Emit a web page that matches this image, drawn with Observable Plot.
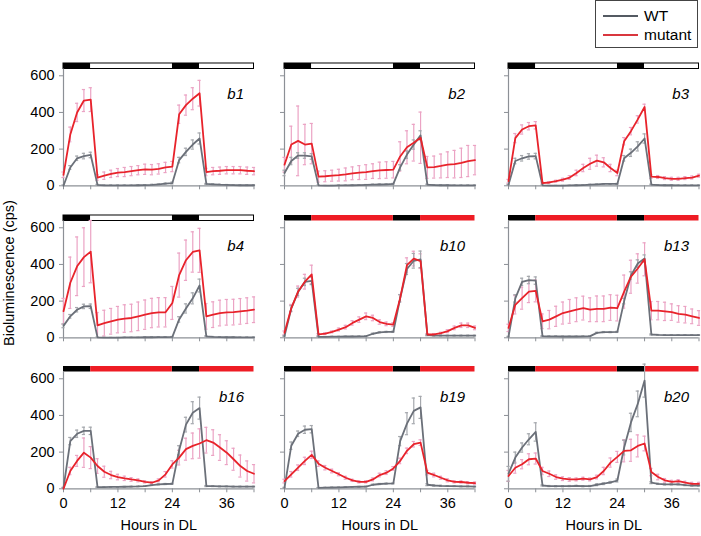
<!DOCTYPE html>
<html><head><meta charset="utf-8">
<script src="https://cdn.jsdelivr.net/npm/d3@7"></script>
<script src="https://cdn.jsdelivr.net/npm/@observablehq/plot@0.6"></script>
<style>
body{margin:0;background:#fff;}
#chart{position:relative;width:701px;height:536px;overflow:hidden;font-family:"Liberation Sans",Arial,sans-serif;color:#000;}
.panel{position:absolute;}
#ylab{position:absolute;left:8.5px;top:273px;transform:translate(-50%,-50%) rotate(-90deg);font-size:14.5px;white-space:nowrap;}
#legend{position:absolute;left:595px;top:0px;width:103px;height:48px;border:1px solid #444;box-sizing:border-box;font-size:15.5px;}
#legend .row{position:absolute;left:7px;height:18px;display:flex;align-items:center;}
#legend .sw{width:35px;height:0;border-top:2px solid;margin-right:6px;}
</style></head><body><div id="chart"><div id="ylab">Bioluminescence (cps)</div>
<div id="legend"><div class="row" style="top:6px"><span class="sw" style="border-color:#545a62"></span>WT</div><div class="row" style="top:25px"><span class="sw" style="border-color:#d9363e"></span>mutant</div></div></div>
<script>
const hours = [0,1.5,3,4.5,6,7.5,9,10.5,12,13.5,15,16.5,18,19.5,21,22.5,24,25.5,27,28.5,30,31.5,33,34.5,36,37.5,39,40.5,42];
const panelNames = ["b1","b2","b3","b4","b10","b13","b16","b19","b20"];
const lightType = ["white","white","white","white","red","red","red","red","red"];
const phaseStart = [0,6,24,30];
const phaseEnd = [6,24,30,42];
const phaseDark = [true,false,true,false];
const yTicks = [0,200,400,600];
const xTicks = [0,6,12,18,24,30,36,42];
const xTickLabels = [0,12,24,36];

const b1_wt     = [0,100,150,162,168,5,2,2,2,2,2,3,4,5,8,12,15,140,185,225,258,10,8,6,5,4,3,3,3];
const b1_wtErr  = [5,10,12,15,15,3,2,2,2,2,2,2,2,3,3,3,5,15,20,25,30,3,3,2,2,2,2,2,2];
const b1_mut    = [60,280,400,465,470,45,55,65,72,75,80,85,90,88,92,100,105,390,440,475,505,75,80,82,85,85,85,82,80];
const b1_mutErr = [15,40,50,60,65,15,20,20,22,25,25,25,28,28,28,28,28,50,55,60,70,20,20,20,20,20,20,20,20];

const b2_wt     = [70,135,165,165,160,2,1,1,2,2,3,4,5,6,7,8,10,100,170,225,275,6,4,3,3,2,2,2,2];
const b2_wtErr  = [15,20,15,15,15,2,1,1,2,2,2,2,2,3,3,3,3,15,20,25,25,3,2,2,2,2,2,2,2];
const b2_mut    = [115,225,245,225,230,50,52,55,58,62,68,72,75,80,84,86,88,160,210,235,262,100,102,108,115,118,125,135,140];
const b2_mutErr = [40,100,190,110,110,30,30,30,32,35,35,38,40,40,45,45,45,80,90,100,140,60,60,65,70,75,80,85,80];

const b3_wt     = [5,135,150,160,162,2,1,1,1,2,3,4,6,8,10,10,10,150,180,215,258,6,4,3,3,2,2,2,2];
const b3_wtErr  = [3,15,15,15,15,2,1,1,1,1,2,2,2,2,2,2,3,15,20,25,25,3,2,2,2,2,2,2,2];
const b3_mut    = [25,260,307,325,330,15,18,25,33,45,70,97,120,137,128,97,70,243,298,362,430,50,48,42,38,38,42,45,55];
const b3_mutErr = [10,25,25,20,20,5,5,5,8,10,15,20,30,30,25,20,15,20,20,20,15,10,8,8,8,8,8,8,8];

const b4_wt     = [65,117,153,171,172,2,1,1,1,2,2,2,3,3,4,4,5,100,160,215,285,8,5,4,3,3,2,2,2];
const b4_wtErr  = [10,10,12,12,12,2,1,1,1,1,1,1,2,2,2,2,2,15,25,30,35,3,2,2,2,2,2,2,2];
const b4_mut    = [145,300,390,440,470,68,80,90,99,105,108,117,126,135,139,139,190,342,423,468,477,117,126,135,139,140,144,148,153];
const b4_mutErr = [70,140,160,160,170,70,70,70,72,75,75,78,80,80,80,80,90,120,110,110,120,70,70,70,70,70,70,70,70];

const b10_wt     = [9,160,250,305,310,5,5,6,6,7,7,8,9,22,30,32,33,215,375,420,428,14,12,12,12,12,12,12,12];
const b10_wtErr  = [3,15,20,20,20,2,2,2,2,2,2,2,2,3,3,3,3,20,30,40,45,3,2,2,2,2,2,2,2];
const b10_mut    = [27,162,252,306,346,18,23,32,45,58,81,99,117,108,86,76,72,216,396,432,418,18,18,25,36,54,68,68,54];
const b10_mutErr = [10,20,30,40,50,5,5,5,8,10,12,15,18,15,12,10,10,20,40,40,40,5,5,5,8,10,12,12,10];

const b13_wt     = [5,215,305,315,312,9,8,8,7,7,7,8,9,27,31,31,32,200,340,405,432,18,16,15,15,15,15,15,15];
const b13_wtErr  = [3,20,20,20,20,2,2,2,2,2,2,2,2,3,3,3,3,15,20,20,20,3,2,2,2,2,2,2,2];
const b13_mut    = [54,180,216,252,256,90,99,117,135,144,153,162,153,158,158,165,162,252,333,378,428,148,148,144,140,130,126,117,108];
const b13_mutErr = [20,50,60,60,60,40,50,55,60,65,65,65,65,70,70,70,70,90,90,80,90,50,50,50,45,45,45,40,40];

const b16_wt     = [5,260,300,316,316,9,9,10,10,11,12,13,15,20,24,26,27,210,350,415,440,15,14,13,13,12,12,12,12];
const b16_wtErr  = [3,20,20,20,20,2,2,2,2,2,2,2,2,2,3,3,3,25,40,60,60,3,2,2,2,2,2,2,2];
const b16_mut    = [0,97,152,197,170,124,93,75,64,57,51,46,38,33,46,79,133,170,216,234,247,265,252,225,197,161,124,97,82];
const b16_mutErr = [5,20,30,80,60,40,30,20,15,12,10,8,6,5,8,15,20,40,60,70,80,70,70,70,65,60,60,55,50];

const b19_wt     = [5,235,300,322,325,5,6,7,8,9,10,11,12,22,26,28,29,260,355,425,444,22,18,16,15,14,13,13,12];
const b19_wtErr  = [3,20,15,20,20,2,2,2,2,2,2,2,2,3,3,3,3,25,60,70,60,5,3,3,2,2,2,2,2];
const b19_mut    = [42,79,115,152,185,137,115,97,79,60,46,38,38,51,75,88,111,152,207,243,252,88,75,60,46,38,37,33,31];
const b19_mutErr = [10,15,15,20,20,15,12,10,8,8,6,6,6,8,10,10,10,15,15,15,15,12,10,8,8,6,6,6,6];

const b20_wt     = [82,170,225,270,310,18,15,14,14,15,16,14,15,22,28,35,45,225,362,463,590,33,27,24,24,24,20,18,18];
const b20_wtErr  = [40,30,25,30,50,3,3,3,3,3,3,3,3,5,5,5,8,40,50,70,90,5,3,3,3,3,3,3,3];
const b20_mut    = [70,115,134,161,165,97,82,64,55,51,51,55,51,64,97,143,174,207,210,234,247,91,64,46,38,42,33,27,27];
const b20_mutErr = [30,30,25,30,30,20,15,12,10,10,8,8,8,10,20,25,30,60,60,60,40,20,15,10,8,8,8,8,8];

const panelSeries = [
  [b1_wt,b1_wtErr,b1_mut,b1_mutErr],[b2_wt,b2_wtErr,b2_mut,b2_mutErr],[b3_wt,b3_wtErr,b3_mut,b3_mutErr],
  [b4_wt,b4_wtErr,b4_mut,b4_mutErr],[b10_wt,b10_wtErr,b10_mut,b10_mutErr],[b13_wt,b13_wtErr,b13_mut,b13_mutErr],
  [b16_wt,b16_wtErr,b16_mut,b16_mutErr],[b19_wt,b19_wtErr,b19_mut,b19_mutErr],[b20_wt,b20_wtErr,b20_mut,b20_mutErr]
];

// layout
const colX0 = [63.3, 284.2, 508.2];
const rowY0 = [185, 337, 488.5];
const innerW = 190.5;
const yMax = 667, barLo = 637;
const innerH = yMax * 110 / 600;
const WT_LINE = "#6b7079", WT_ERR = "#a5a8ad", MUT_LINE = "#e8232b", MUT_ERR = "#eba3c4", AXIS = "#8c9096";
const lightFill = {white: "white", red: "#ee1c24"};

const chart = document.getElementById("chart");
const phases = phaseStart.map((s, k) => ({start: s, end: phaseEnd[k], dark: phaseDark[k]}));

panelNames.forEach((name, i) => {
  const r = Math.floor(i / 3), c = i % 3;
  const [wt, wtErr, mut, mutErr] = panelSeries[i];
  const rows = hours.map((t, j) => ({t, wt: wt[j], wtErr: wtErr[j], mut: mut[j], mutErr: mutErr[j]}));
  const ml = c === 0 ? 45 : 15, mr = c === 2 ? 2 : 12, mt = 3, mb = r === 2 ? 45 : 8;
  const lt = lightType[i];
  const marks = [
    Plot.rect(phases.filter(d => d.dark), {x1: "start", x2: "end", y1: barLo, y2: yMax, fill: "black"}),
    Plot.rect(phases.filter(d => !d.dark), {x1: "start", x2: "end", y1: barLo, y2: yMax, fill: lightFill[lt]}),
  ];
  if (lt === "white") marks.push(Plot.rect([0], {x1: 0, x2: 42, y1: barLo, y2: yMax, fill: "none", stroke: "black", strokeWidth: 1}));
  marks.push(
    Plot.ruleY([0], {stroke: AXIS, strokeWidth: 1.2}),
    Plot.ruleX([0], {y1: 0, y2: barLo, stroke: AXIS, strokeWidth: 1.2}),
    Plot.axisY({ticks: yTicks, tickSize: 4, tickPadding: 5, stroke: AXIS, fill: "black", fontSize: 14.5, label: null,
      tickFormat: c === 0 ? d => String(d) : () => ""}),
    Plot.axisX({ticks: xTicks, tickSize: 4, tickPadding: 5, stroke: AXIS, fill: "black", fontSize: 14.5, label: null,
      tickFormat: d => (r === 2 && xTickLabels.includes(d)) ? String(d) : ""}),
    // mutant error bars
    Plot.ruleX(rows, {x: "t", y1: d => Math.max(0, d.mut - d.mutErr), y2: d => d.mut + d.mutErr, stroke: MUT_ERR, strokeWidth: 1.2}),
    Plot.ruleY(rows, {y: d => d.mut + d.mutErr, x1: d => d.t - 0.35, x2: d => d.t + 0.35, stroke: MUT_ERR, strokeWidth: 1.2}),
    Plot.ruleY(rows.filter(d => d.mut - d.mutErr > 0), {y: d => d.mut - d.mutErr, x1: d => d.t - 0.35, x2: d => d.t + 0.35, stroke: MUT_ERR, strokeWidth: 1.2}),
    // WT error bars
    Plot.ruleX(rows, {x: "t", y1: d => Math.max(0, d.wt - d.wtErr), y2: d => d.wt + d.wtErr, stroke: WT_ERR, strokeWidth: 1.2}),
    Plot.ruleY(rows, {y: d => d.wt + d.wtErr, x1: d => d.t - 0.35, x2: d => d.t + 0.35, stroke: WT_ERR, strokeWidth: 1.2}),
    Plot.ruleY(rows.filter(d => d.wt - d.wtErr > 0), {y: d => d.wt - d.wtErr, x1: d => d.t - 0.35, x2: d => d.t + 0.35, stroke: WT_ERR, strokeWidth: 1.2}),
    Plot.line(rows, {x: "t", y: "wt", stroke: WT_LINE, strokeWidth: 1.8}),
    Plot.line(rows, {x: "t", y: "mut", stroke: MUT_LINE, strokeWidth: 1.8}),
    Plot.text([name], {text: d => d, frameAnchor: "top-right", dx: -10, dy: 31, lineAnchor: "middle", fontSize: 15, fontStyle: "italic", fill: "black"})
  );
  if (r === 2) marks.push(Plot.text(["Hours in DL"], {text: d => d, frameAnchor: "bottom", dy: 37, lineAnchor: "middle", fontSize: 14.5, fill: "black"}));
  const p = Plot.plot({
    width: ml + innerW + mr,
    height: mt + innerH + mb,
    marginLeft: ml, marginRight: mr, marginTop: mt, marginBottom: mb,
    x: {domain: [0, 42]},
    y: {domain: [0, yMax]},
    style: {fontFamily: '"Liberation Sans", Arial, sans-serif', fontSize: "14.5px", color: "black", background: "transparent", overflow: "visible"},
    marks
  });
  p.classList.add("panel");
  p.style.left = (colX0[c] - ml) + "px";
  p.style.top = (rowY0[r] - innerH - mt) + "px";
  p.style.maxWidth = "none";
  chart.appendChild(p);
});
</script></body></html>
